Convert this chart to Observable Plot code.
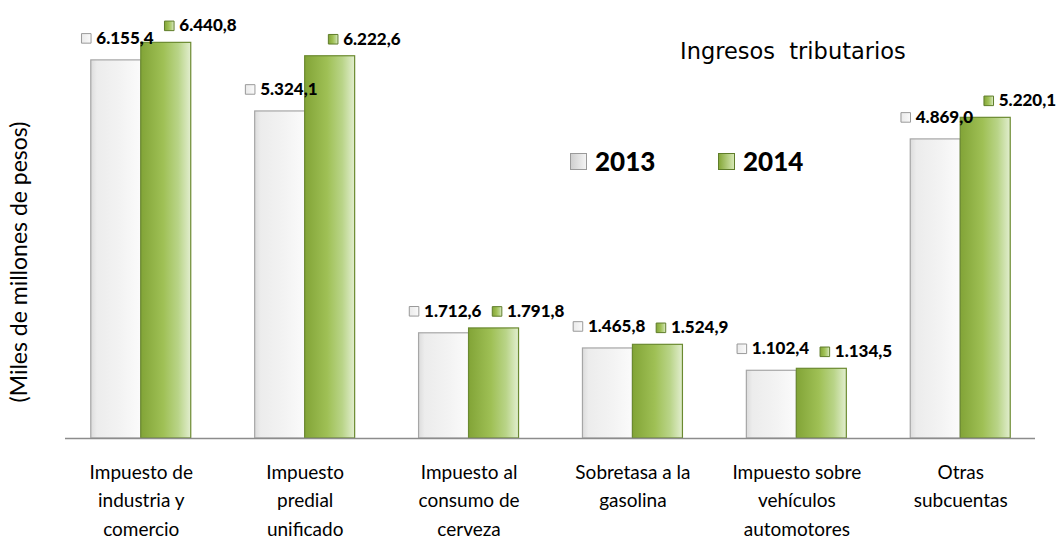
<!DOCTYPE html>
<html>
<head>
<meta charset="utf-8">
<script src="https://cdn.jsdelivr.net/npm/d3@7"></script>
<script src="https://cdn.jsdelivr.net/npm/@observablehq/plot@0.6"></script>
<style>
  html, body { margin: 0; padding: 0; background: #fff; }
  #wrap { position: relative; width: 1060px; height: 539px; overflow: hidden; }
  #title { position: absolute; left: 680px; top: 38px; font-family: "DejaVu Sans", sans-serif; font-size: 22.5px; color: #000; white-space: pre; }
  .leg { position: absolute; top: 145px; display: flex; align-items: center; font-family: Lato, sans-serif; font-weight: 900; font-size: 26px; color: #000; }
  .leg .sw { width: 17px; height: 17px; margin-right: 8px; border: 1px solid; box-sizing: border-box; }
  #ylab { position: absolute; left: 18px; top: 262px; transform: translate(-50%, -50%) rotate(-90deg); font-family: Lato, sans-serif; font-size: 23px; white-space: nowrap; color: #000; }
</style>
</head>
<body>
<div id="wrap">
  <div id="chart"></div>
  <div id="title">Ingresos  tributarios</div>
  <div class="leg" style="left:570px"><div class="sw" style="background:linear-gradient(90deg,#cfcfcf,#f4f4f4);border-color:#9a9a9a"></div>2013</div>
  <div class="leg" style="left:718px"><div class="sw" style="background:linear-gradient(90deg,#86a83a,#d6e8b4);border-color:#5f7d2a"></div>2014</div>
  <div id="ylab">(Miles de millones de pesos)</div>
</div>
<script>
const categories = [
  "Impuesto de\nindustria y\ncomercio",
  "Impuesto\npredial\nunificado",
  "Impuesto al\nconsumo de\ncerveza",
  "Sobretasa a la\ngasolina",
  "Impuesto sobre\nvehículos\nautomotores",
  "Otras\nsubcuentas"
];
const years = ["2013", "2014"];
const values2013 = [6155.4, 5324.1, 1712.6, 1465.8, 1102.4, 4869.0];
const values2014 = [6440.8, 6222.6, 1791.8, 1524.9, 1134.5, 5220.1];

const rows2013 = categories.map((c, i) => ({cat: c, year: years[0], v: values2013[i]}));
const rows2014 = categories.map((c, i) => ({cat: c, year: years[1], v: values2014[i]}));

const esLocale = d3.formatLocale({decimal: ",", thousands: ".", grouping: [3], currency: ["$", ""]});
const fmt = esLocale.format(",.1f");

const font = "Lato, sans-serif";

const chart = Plot.plot({
  width: 1060,
  height: 539,
  marginLeft: 58,
  marginRight: 17,
  marginTop: 8,
  marginBottom: 101,
  style: {fontFamily: font, background: "transparent", overflow: "visible"},
  x: {type: "band", domain: categories, paddingInner: 0.39, paddingOuter: 0.2, round: false, axis: null},
  y: {domain: [0, 7000], axis: null},
  marks: [
    Plot.barY(rows2013, {x: "cat", y: "v", insetRight: 50, fill: "url(#g2013)", stroke: "#a6a6a6", strokeWidth: 1.2}),
    Plot.barY(rows2014, {x: "cat", y: "v", insetLeft: 50, fill: "url(#g2014)", stroke: "#6b8a30", strokeWidth: 1.2}),
    Plot.ruleY([0], {stroke: "#8c8c8c", strokeWidth: 1.5, insetLeft: 7, insetRight: 8}),
    Plot.dot(rows2013, {x: "cat", y: "v", symbol: "square", r: 5.4, dx: -55, dy: -22, fill: "url(#g2013)", stroke: "#9a9a9a", strokeWidth: 1}),
    Plot.text(rows2013, {x: "cat", y: "v", text: d => fmt(d.v), dx: -45, dy: -22, textAnchor: "start", fontSize: 17, fontWeight: 900, fill: "#000"}),
    Plot.dot(rows2014, {x: "cat", y: "v", symbol: "square", r: 5.4, dx: 28, dy: -17, fill: "url(#g2014)", stroke: "#5f7d2a", strokeWidth: 1}),
    Plot.text(rows2014, {x: "cat", y: "v", text: d => fmt(d.v), dx: 38, dy: -17, textAnchor: "start", fontSize: 17, fontWeight: 900, fill: "#000"}),
    Plot.text(categories, {x: d => d, y: () => 0, text: d => d, dy: 20, lineAnchor: "top", lineHeight: 1.5, fontSize: 19, fill: "#000"})
  ]
});

const svg = d3.select(chart.tagName.toLowerCase() === "svg" ? chart : chart.querySelector("svg"));
const defs = svg.insert("defs", ":first-child");
const g1 = defs.append("linearGradient").attr("id", "g2013").attr("x1", 0).attr("x2", 1).attr("y1", 0).attr("y2", 0);
[[0, "#dcdcdc"], [0.12, "#ececec"], [0.6, "#f3f3f3"], [1, "#fbfbfb"]].forEach(([o, c]) => g1.append("stop").attr("offset", o).attr("stop-color", c));
const g2 = defs.append("linearGradient").attr("id", "g2014").attr("x1", 0).attr("x2", 1).attr("y1", 0).attr("y2", 0);
[[0, "#82a437"], [0.45, "#9fc055"], [0.75, "#b9d488"], [1, "#e2eecf"]].forEach(([o, c]) => g2.append("stop").attr("offset", o).attr("stop-color", c));

document.getElementById("chart").appendChild(chart);
</script>
</body>
</html>
